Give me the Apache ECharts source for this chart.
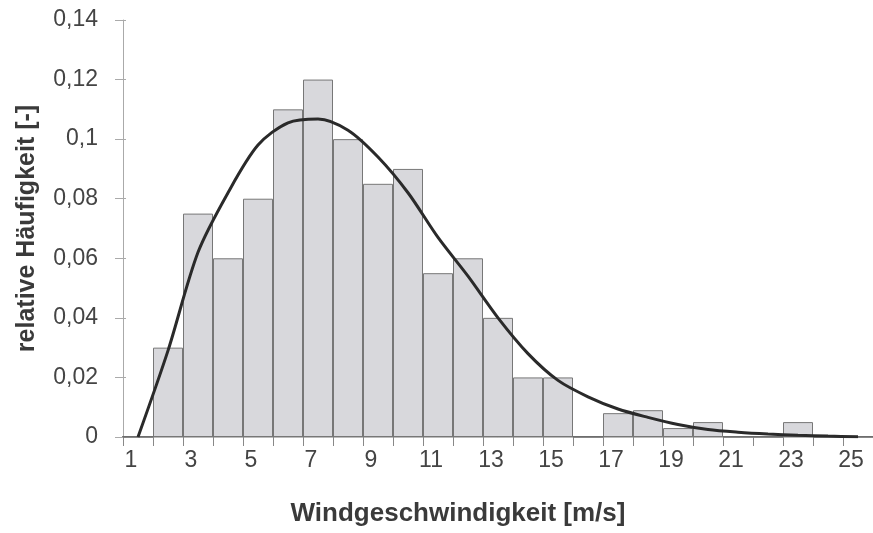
<!DOCTYPE html>
<html>
<head>
<meta charset="utf-8">
<script src="https://cdn.jsdelivr.net/npm/echarts@6/dist/echarts.min.js"></script>
<style>
	html, body { margin: 0; padding: 0; background: #fff; }
	#chart { width: 873px; height: 533px; }
</style>
</head>
<body>
<div id="chart"></div>
<script type="text/javascript">
	// Windgeschwindigkeit-Klassen (m/s)
	var speeds = ['1','2','3','4','5','6','7','8','9','10','11','12','13','14','15','16','17','18','19','20','21','22','23','24','25'];
	// gemessene relative Häufigkeit (Balken)
	var measured = [0, 0.03, 0.075, 0.06, 0.08, 0.11, 0.12, 0.1, 0.085, 0.09, 0.055, 0.06, 0.04, 0.02, 0.02, 0, 0.008, 0.009, 0.003, 0.005, 0, 0, 0.005, 0, 0];
	// angepasste Verteilung (Linie)
	var fitted = [0, 0.029, 0.062, 0.082, 0.098, 0.1055, 0.1068, 0.103, 0.094, 0.082, 0.067, 0.054, 0.04, 0.028, 0.019, 0.0135, 0.0094, 0.0066, 0.0042, 0.0025, 0.0016, 0.001, 0.0006, 0.0003, 0.0001];
	// y-Achse
	var yMin = 0, yMax = 0.14, yStep = 0.02;

	var font = 'Liberation Sans, Arial, sans-serif';
	var myChart = echarts.init(document.getElementById('chart'), null, {renderer: 'canvas'});

	function comma(v){
		return String(+v.toFixed(2)).replace('.', ',');
	}

	var option = {
		backgroundColor: '#ffffff',
		animation: false,
		grid: { left: 123, top: 20, width: 755, height: 417 },
		xAxis: [
			{
				type: 'category',
				data: speeds,
				boundaryGap: true,
				position: 'bottom',
				name: 'Windgeschwindigkeit [m/s]',
				nameLocation: 'middle',
				nameGap: 64,
				nameTextStyle: { fontFamily: font, fontSize: 26, fontWeight: 'bold', color: '#3a3a3a', padding: [0, 80, 0, 0] },
				axisLine: { lineStyle: { color: '#555', width: 2 } },
				axisTick: { show: true, interval: 0, length: 9, lineStyle: { color: '#888' } },
				axisLabel: { interval: 1, margin: 12, fontFamily: font, fontSize: 23, color: '#444', padding: [0, 14, 0, 0] },
				splitLine: { show: false }
			},
			{
				type: 'category',
				data: speeds,
				position: 'top',
				axisLine: { lineStyle: { color: '#bbb', width: 1 } },
				axisTick: { show: false },
				axisLabel: { show: false },
				splitLine: { show: false }
			}
		],
		yAxis: [
			{
				type: 'value',
				min: yMin,
				max: yMax,
				interval: yStep,
				position: 'left',
				name: 'relative Häufigkeit [-]',
				nameLocation: 'middle',
				nameGap: 83,
				nameTextStyle: { fontFamily: font, fontSize: 25, fontWeight: 'bold', color: '#3a3a3a' },
				axisLine: { show: true, lineStyle: { color: '#aaa', width: 1 } },
				axisTick: { show: true, length: 8, lineStyle: { color: '#aaa' } },
				axisLabel: { margin: 25, fontFamily: font, fontSize: 23, color: '#444', formatter: comma },
				splitLine: { show: false }
			},
			{
				// nur die inneren Teilstriche an der linken Achse
				type: 'value',
				min: yMin,
				max: yMax,
				interval: yStep,
				position: 'right',
				offset: -755,
				axisLine: { show: false },
				axisTick: { show: true, length: 8, lineStyle: { color: '#aaa' } },
				axisLabel: { show: false },
				splitLine: { show: false }
			}
		],
		series: [
			{
				name: 'gemessen',
				type: 'bar',
				data: measured,
				barCategoryGap: 0,
				itemStyle: { color: '#d8d8dc', borderColor: '#777', borderWidth: 1 },
				z: 2
			},
			{
				name: 'Verteilung',
				type: 'line',
				data: fitted,
				smooth: 0.3,
				symbol: 'none',
				lineStyle: { color: '#2a2a2a', width: 3 },
				z: 3
			}
		]
	};

	myChart.setOption(option);
</script>
</body>
</html>
